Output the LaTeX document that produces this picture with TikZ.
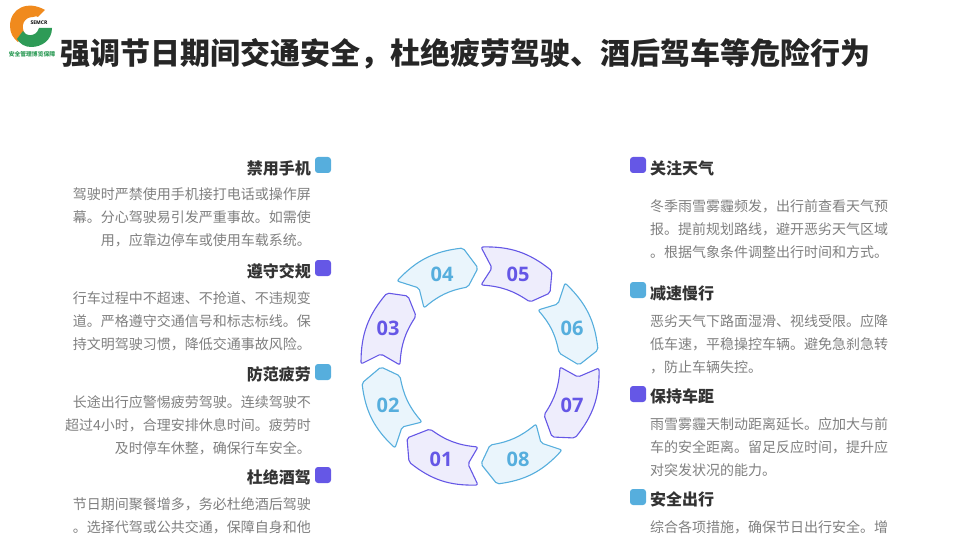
\documentclass[tikz,border=0pt]{standalone}
\usepackage{fontspec}
\setmainfont{Noto Sans CJK SC}
\newfontfamily\numfont{Open Sans}
\usetikzlibrary{positioning}
\definecolor{segblue}{HTML}{56AEDD}
\definecolor{segpurple}{HTML}{6557E6}
\definecolor{tintblue}{HTML}{EAF5FC}
\definecolor{tintpurple}{HTML}{EEEDFC}
\definecolor{headgray}{HTML}{333333}
\definecolor{bodygray}{HTML}{7F7F7F}
\definecolor{logoorange}{HTML}{F08A1D}
\definecolor{logogreen}{HTML}{2E9B57}
\begin{document}
\begin{tikzpicture}[
    x=1pt, y=-1pt,
    segb/.style={draw=segblue, fill=tintblue, line width=1.1pt, rounded corners=2pt},
    segp/.style={draw=segpurple, fill=tintpurple, line width=1.1pt, rounded corners=2pt},
    outer/.style={bend left=20},
    inner/.style={bend right=15},
    numb/.style={font=\fontsize{20}{20}\selectfont\numfont\bfseries, text=segblue, inner sep=0pt},
    nump/.style={font=\fontsize{20}{20}\selectfont\numfont\bfseries, text=segpurple, inner sep=0pt},
    hdl/.style={font=\fontsize{16}{16}\selectfont\bfseries, text=headgray, inner sep=0pt, anchor=east},
    hdr/.style={font=\fontsize{16}{16}\selectfont\bfseries, text=headgray, inner sep=0pt, anchor=west},
    txl/.style={font=\fontsize{14}{23}\selectfont, text=bodygray, inner sep=0pt, anchor=east, align=right},
    txr/.style={font=\fontsize{14}{23}\selectfont, text=bodygray, inner sep=0pt, anchor=west, align=left},
    mkb/.style={fill=segblue, rounded corners=3pt, minimum size=16pt, inner sep=0pt},
    mkp/.style={fill=segpurple, rounded corners=3pt, minimum size=16pt, inner sep=0pt}
]
\useasboundingbox (0,0) rectangle (960,540);

% logo
\fill[logoorange] (45,10) .. controls (28,0) and (10,8) .. (10,26) .. controls (10,33) and (13,38) .. (18,42)
    -- (25,34) .. controls (20,26) and (24,17) .. (33,17) .. controls (36,16) and (37,16) .. (38,17) -- cycle;
\fill[logogreen] (52,28) .. controls (52,40) and (42,47) .. (31,47) .. controls (25,47) and (20,44) .. (17,39)
    -- (23,31) .. controls (25,36) and (36,38) .. (39,28) -- cycle;
\node[font=\fontsize{5}{5}\selectfont\numfont\bfseries, text=black, inner sep=0pt] (logoname) at (39,23) {SEMCR};
\node[font=\fontsize{5.8}{6}\selectfont\bfseries, text=logogreen, inner sep=0pt] (logotext) at (32,54) {安全管理博览保障};

% title
\node[font=\fontsize{30}{30}\selectfont\bfseries, text=black!85, inner sep=0pt, anchor=west] (title) at (60,54)
    {强调节日期间交通安全，杜绝疲劳驾驶、酒后驾车等危险行为};

% ring
\draw[segb] (397,281) to[outer] (463,248) -- (478,268) -- (468,287) to[inner] (424,308) -- (419,288) -- cycle;
\draw[segp] (361,364) to[outer] (387,293) -- (408,296) -- (416,316) to[inner] (400,365) -- (381,354) -- cycle;
\draw[segp] (481,247) to[outer] (552,271) -- (550,293) -- (530,302) to[inner] (481,285) -- (492,268) -- cycle;
\draw[segb] (565,283) to[outer] (598,350) -- (579,365) -- (559,353) to[inner] (538,310) -- (558,304) -- cycle;
\draw[segb] (395,448) to[outer] (362,383) -- (381,367) -- (400,376) to[inner] (422,422) -- (402,427) -- cycle;
\draw[segp] (478,485) to[outer] (409,462) -- (407,438) -- (430,429) to[inner] (478,447) -- (468,464) -- cycle;
\draw[segp] (599,368) to[outer] (575,438) -- (552,437) -- (544,415) to[inner] (560,367) -- (578,377) -- cycle;
\draw[segb] (562,450) to[outer] (497,484) -- (481,464) -- (490,445) to[inner] (536,424) -- (541,443) -- cycle;

\node[numb] (n04) at (442,274) {04};
\node[nump] (n03) at (388,328) {03};
\node[nump] (n05) at (518,274) {05};
\node[numb] (n06) at (572,328) {06};
\node[numb] (n02) at (388,405) {02};
\node[nump] (n01) at (441,459) {01};
\node[nump] (n07) at (572,405) {07};
\node[numb] (n08) at (518,459) {08};

% left column
\node[mkb] (mk1) at (323,165) {};
\node[hdl] (hd1) at (311,168) {禁用手机};
\node[txl] (tx1) at (311,217) {驾驶时严禁使用手机接打电话或操作屏\\幕。分心驾驶易引发严重事故。如需使\\用，应靠边停车或使用车载系统。};
\node[mkp] (mk2) at (323,268) {};
\node[hdl] (hd2) at (311,271) {遵守交规};
\node[txl] (tx2) at (311,321) {行车过程中不超速、不抢道、不违规变\\道。严格遵守交通信号和标志标线。保\\持文明驾驶习惯，降低交通事故风险。};
\node[mkb] (mk3) at (323,372) {};
\node[hdl] (hd3) at (311,374) {防范疲劳};
\node[txl] (tx3) at (311,425) {长途出行应警惕疲劳驾驶。连续驾驶不\\超过4小时，合理安排休息时间。疲劳时\\及时停车休整，确保行车安全。};
\node[mkp] (mk4) at (323,475) {};
\node[hdl] (hd4) at (311,477) {杜绝酒驾};
\node[txl] (tx4) at (311,516) {节日期间聚餐增多，务必杜绝酒后驾驶\\。选择代驾或公共交通，保障自身和他};

% right column
\node[mkp] (mk5) at (638,165) {};
\node[hdr] (hd5) at (650,168) {关注天气};
\node[txr] (tx5) at (650,229) {冬季雨雪雾霾频发，出行前查看天气预\\报。提前规划路线，避开恶劣天气区域\\。根据气象条件调整出行时间和方式。};
\node[mkb] (mk6) at (638,290) {};
\node[hdr] (hd6) at (650,293) {减速慢行};
\node[txr] (tx6) at (650,344) {恶劣天气下路面湿滑、视线受限。应降\\低车速，平稳操控车辆。避免急刹急转\\，防止车辆失控。};
\node[mkp] (mk7) at (638,394) {};
\node[hdr] (hd7) at (650,396) {保持车距};
\node[txr] (tx7) at (650,447) {雨雪雾霾天制动距离延长。应加大与前\\车的安全距离。留足反应时间，提升应\\对突发状况的能力。};
\node[mkb] (mk8) at (638,497) {};
\node[hdr] (hd8) at (650,499) {安全出行};
\node[txr] (tx8) at (650,527) {综合各项措施，确保节日出行安全。增};
\end{tikzpicture}
\end{document}
